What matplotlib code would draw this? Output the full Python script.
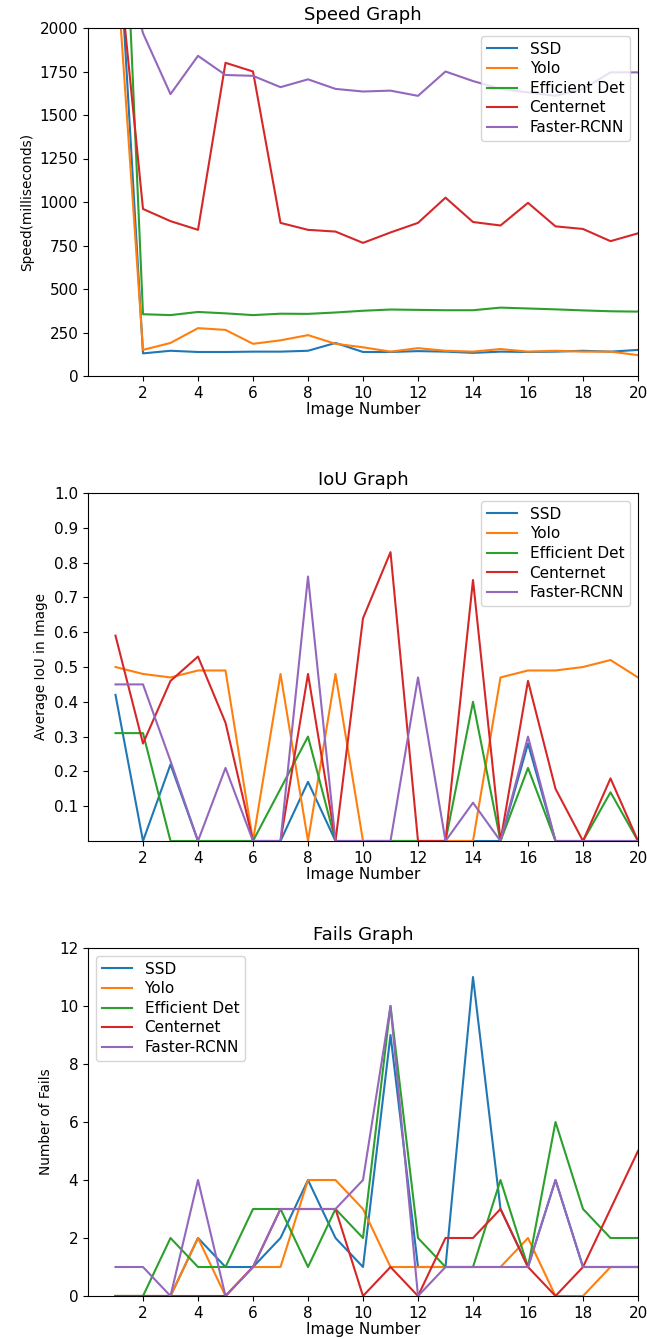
import matplotlib
matplotlib.use("Agg")
import matplotlib.pyplot as plt

images = list(range(1, 21))
models = ["SSD", "Yolo", "Efficient Det", "Centernet", "Faster-RCNN"]

speed_ssd = [2850, 130, 145, 138, 138, 140, 140, 145, 190, 138, 138, 143, 140, 133, 140, 138, 140, 145, 140, 150]
speed_yolo = [2450, 150, 190, 275, 265, 185, 205, 235, 185, 165, 140, 160, 145, 140, 155, 140, 145, 140, 140, 120]
speed_effdet = [4000, 355, 350, 368, 360, 350, 358, 357, 365, 375, 382, 380, 378, 378, 393, 388, 383, 377, 372, 370]
speed_centernet = [2550, 960, 890, 840, 1800, 1750, 880, 840, 830, 765, 825, 880, 1025, 885, 865, 995, 860, 845, 775, 820]
speed_frcnn = [2600, 1970, 1620, 1840, 1730, 1725, 1660, 1705, 1650, 1635, 1640, 1610, 1750, 1695, 1650, 1630, 1610, 1650, 1745, 1745]

iou_ssd = [0.42, 0.0, 0.22, 0.0, 0.0, 0.0, 0.0, 0.17, 0.0, 0.0, 0.0, 0.0, 0.0, 0.0, 0.0, 0.28, 0.0, 0.0, 0.0, 0.0]
iou_yolo = [0.50, 0.48, 0.47, 0.49, 0.49, 0.0, 0.48, 0.0, 0.48, 0.0, 0.0, 0.0, 0.0, 0.0, 0.47, 0.49, 0.49, 0.50, 0.52, 0.47]
iou_effdet = [0.31, 0.31, 0.0, 0.0, 0.0, 0.0, 0.15, 0.30, 0.0, 0.0, 0.0, 0.0, 0.0, 0.40, 0.0, 0.21, 0.0, 0.0, 0.14, 0.0]
iou_centernet = [0.59, 0.28, 0.46, 0.53, 0.34, 0.0, 0.0, 0.48, 0.0, 0.64, 0.83, 0.0, 0.0, 0.75, 0.0, 0.46, 0.15, 0.0, 0.18, 0.0]
iou_frcnn = [0.45, 0.45, 0.23, 0.0, 0.21, 0.0, 0.0, 0.76, 0.0, 0.0, 0.0, 0.47, 0.0, 0.11, 0.0, 0.30, 0.0, 0.0, 0.0, 0.0]

fails_ssd = [0, 0, 0, 2, 1, 1, 2, 4, 2, 1, 9, 1, 1, 11, 3, 1, 4, 1, 1, 1]
fails_yolo = [0, 0, 0, 2, 0, 1, 1, 4, 4, 3, 1, 1, 1, 1, 1, 2, 0, 0, 1, 1]
fails_effdet = [0, 0, 2, 1, 1, 3, 3, 1, 3, 2, 10, 2, 1, 1, 4, 1, 6, 3, 2, 2]
fails_centernet = [0, 0, 0, 0, 0, 1, 3, 3, 3, 0, 1, 0, 2, 2, 3, 1, 0, 1, 3, 5]
fails_frcnn = [1, 1, 0, 4, 0, 1, 3, 3, 3, 4, 10, 0, 1, 1, 1, 1, 4, 1, 1, 1]

xticks = [2, 4, 6, 8, 10, 12, 14, 16, 18, 20]

plt.rcParams['font.family'] = ['DejaVu Sans']
plt.rcParams['font.size'] = 11

fig = plt.figure(figsize=(6.47, 13.39), dpi=100)
W, H = 647, 1339

def add_ax(top_px, bottom_px, left_px=88, right_px=638):
    return fig.add_axes([left_px / W, 1 - bottom_px / H, (right_px - left_px) / W, (bottom_px - top_px) / H])

panels = [
    (add_ax(28, 376), [speed_ssd, speed_yolo, speed_effdet, speed_centernet, speed_frcnn],
     "Speed Graph", "Speed(milliseconds)", (0, 2000), [0, 250, 500, 750, 1000, 1250, 1500, 1750, 2000], "upper right"),
    (add_ax(493, 841), [iou_ssd, iou_yolo, iou_effdet, iou_centernet, iou_frcnn],
     "IoU Graph", "Average IoU in Image", (0, 1.0), [0.1, 0.2, 0.3, 0.4, 0.5, 0.6, 0.7, 0.8, 0.9, 1.0], "upper right"),
    (add_ax(948, 1296), [fails_ssd, fails_yolo, fails_effdet, fails_centernet, fails_frcnn],
     "Fails Graph", "Number of Fails", (0, 12), [0, 2, 4, 6, 8, 10, 12], "upper left"),
]

for ax, series, title, ylabel, ylim, yticks, loc in panels:
    for name, vals in zip(models, series):
        ax.plot(images, vals, label=name, linewidth=1.5)
    ax.set_xlim(0, 20)
    ax.set_ylim(*ylim)
    ax.set_xticks(xticks)
    ax.set_yticks(yticks)
    ax.tick_params(labelsize=11)
    ax.set_title(title, fontsize=13)
    ax.set_xlabel("Image Number", fontsize=11, labelpad=1)
    ax.set_ylabel(ylabel, fontsize=9.8)
    ax.legend(loc=loc, fontsize=11, labelspacing=0.3)

fig.savefig("out.png", dpi=100)
